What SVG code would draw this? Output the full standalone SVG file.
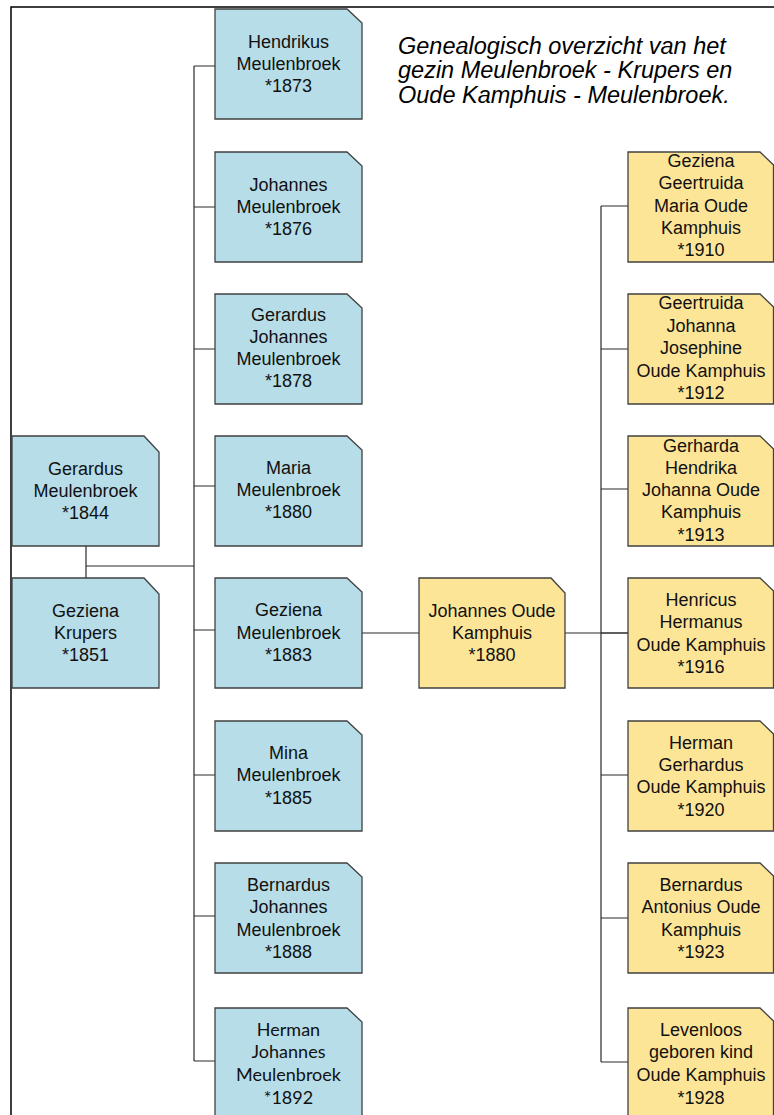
<svg xmlns="http://www.w3.org/2000/svg" width="774" height="1115" viewBox="0 0 774 1115">
<style>
.b{fill:#b7dde8;stroke:#404040;stroke-width:1.3}
.y{fill:#fde598;stroke:#404040;stroke-width:1.3}
.t{font-family:"Liberation Sans",Arial,sans-serif;font-size:18px;fill:#111;text-anchor:middle}
.c{font-family:Lato,"Liberation Sans",sans-serif;font-size:18px;fill:#111;text-anchor:middle}
.ln{fill:none;stroke:#2a2a2a;stroke-width:1.2}
.title{font-family:"Liberation Sans",Arial,sans-serif;font-size:23.5px;font-style:italic;fill:#000}
</style>
<rect width="774" height="1115" fill="#fff"/>
<path d="M11,1115 V7 H774" fill="none" stroke="#000" stroke-width="1.5"/>
<g id="title"><text class="title" x="398"><tspan x="398" y="53.5">Genealogisch overzicht van het</tspan><tspan x="398" y="78">gezin Meulenbroek - Krupers en</tspan><tspan x="398" y="102.5">Oude Kamphuis - Meulenbroek.</tspan></text></g>
<g id="connectors">
<path class="ln" d="M86,546 V578 M86,566 H194 M194,66 V1061"/>
<path class="ln" d="M194,66 H215 M194,207 H215 M194,349 H215 M194,486 H215 M194,630 H215 M194,775 H215 M194,916 H215 M194,1061 H215"/>
<path class="ln" d="M362,633 H419 M565,633 H628 M601,206 V1062"/>
<path class="ln" d="M601,206 H628 M601,349 H628 M601,489 H628 M601,633 H628 M601,775 H628 M601,918 H628 M601,1062 H628"/>
</g>
<g id="gerardus-1844"><path class="b" d="M12,436 H144 L159,452 V546 H12 Z"/><text class="t"><tspan x="85.5" y="475">Gerardus</tspan><tspan x="85.5" y="497">Meulenbroek</tspan><tspan x="85.5" y="519">*1844</tspan></text></g>
<g id="geziena-krupers"><path class="b" d="M12,578 H144 L159,594 V688 H12 Z"/><text class="t"><tspan x="85.5" y="617">Geziena</tspan><tspan x="85.5" y="639">Krupers</tspan><tspan x="85.5" y="661">*1851</tspan></text></g>
<g id="hendrikus"><path class="b" d="M215,9 H347 L362,23 V119 H215 Z"/><text class="t"><tspan x="288.5" y="48">Hendrikus</tspan><tspan x="288.5" y="70">Meulenbroek</tspan><tspan x="288.5" y="92">*1873</tspan></text></g>
<g id="johannes"><path class="b" d="M215,152 H347 L362,166 V262 H215 Z"/><text class="t"><tspan x="288.5" y="191">Johannes</tspan><tspan x="288.5" y="213">Meulenbroek</tspan><tspan x="288.5" y="235">*1876</tspan></text></g>
<g id="gerardus-1878"><path class="b" d="M215,294 H347 L362,308 V404 H215 Z"/><text class="t"><tspan x="288.5" y="321">Gerardus</tspan><tspan x="288.5" y="343">Johannes</tspan><tspan x="288.5" y="365">Meulenbroek</tspan><tspan x="288.5" y="387">*1878</tspan></text></g>
<g id="maria"><path class="b" d="M215,436 H347 L362,450 V546 H215 Z"/><text class="t"><tspan x="288.5" y="474">Maria</tspan><tspan x="288.5" y="496">Meulenbroek</tspan><tspan x="288.5" y="518">*1880</tspan></text></g>
<g id="geziena-meulenbroek"><path class="b" d="M215,578 H347 L362,592 V688 H215 Z"/><text class="t"><tspan x="288.5" y="616">Geziena</tspan><tspan x="288.5" y="639">Meulenbroek</tspan><tspan x="288.5" y="661">*1883</tspan></text></g>
<g id="mina"><path class="b" d="M215,721 H347 L362,735 V831 H215 Z"/><text class="t"><tspan x="288.5" y="759">Mina</tspan><tspan x="288.5" y="781">Meulenbroek</tspan><tspan x="288.5" y="804">*1885</tspan></text></g>
<g id="bernardus-johannes"><path class="b" d="M215,863 H347 L362,877 V973 H215 Z"/><text class="t"><tspan x="288.5" y="891">Bernardus</tspan><tspan x="288.5" y="913">Johannes</tspan><tspan x="288.5" y="936">Meulenbroek</tspan><tspan x="288.5" y="958">*1888</tspan></text></g>
<g id="herman-johannes"><path class="b" d="M215,1008 H347 L362,1022 V1125 H215 Z"/><text class="c"><tspan x="288.5" y="1036">Herman</tspan><tspan x="288.5" y="1058">Johannes</tspan><tspan x="288.5" y="1081">Meulenbroek</tspan><tspan x="288.5" y="1104">*1892</tspan></text></g>
<g id="johannes-oude-kamphuis"><path class="y" d="M419,578 H551 L565,593 V688 H419 Z"/><text class="t"><tspan x="492" y="617">Johannes Oude</tspan><tspan x="492" y="639">Kamphuis</tspan><tspan x="492" y="661">*1880</tspan></text></g>
<g id="geziena-geertruida"><path class="y" d="M628,152 H760 L773.5,165 V262 H628 Z"/><text class="t"><tspan x="701" y="167">Geziena</tspan><tspan x="701" y="189">Geertruida</tspan><tspan x="701" y="212">Maria Oude</tspan><tspan x="701" y="234">Kamphuis</tspan><tspan x="701" y="256">*1910</tspan></text></g>
<g id="geertruida"><path class="y" d="M628,294 H760 L773.5,307 V404 H628 Z"/><text class="t"><tspan x="701" y="309">Geertruida</tspan><tspan x="701" y="332">Johanna</tspan><tspan x="701" y="354">Josephine</tspan><tspan x="701" y="377">Oude Kamphuis</tspan><tspan x="701" y="399">*1912</tspan></text></g>
<g id="gerharda"><path class="y" d="M628,436 H760 L773.5,449 V546 H628 Z"/><text class="t"><tspan x="701" y="452">Gerharda</tspan><tspan x="701" y="474">Hendrika</tspan><tspan x="701" y="496">Johanna Oude</tspan><tspan x="701" y="518">Kamphuis</tspan><tspan x="701" y="541">*1913</tspan></text></g>
<g id="henricus"><path class="y" d="M628,578 H760 L773.5,591 V688 H628 Z"/><text class="t"><tspan x="701" y="606">Henricus</tspan><tspan x="701" y="628">Hermanus</tspan><tspan x="701" y="651">Oude Kamphuis</tspan><tspan x="701" y="673">*1916</tspan></text></g>
<g id="herman-gerhardus"><path class="y" d="M628,721 H760 L773.5,734 V831 H628 Z"/><text class="t"><tspan x="701" y="749">Herman</tspan><tspan x="701" y="771">Gerhardus</tspan><tspan x="701" y="793">Oude Kamphuis</tspan><tspan x="701" y="816">*1920</tspan></text></g>
<g id="bernardus-antonius"><path class="y" d="M628,863 H760 L773.5,876 V973 H628 Z"/><text class="t"><tspan x="701" y="891">Bernardus</tspan><tspan x="701" y="913">Antonius Oude</tspan><tspan x="701" y="936">Kamphuis</tspan><tspan x="701" y="958">*1923</tspan></text></g>
<g id="levenloos"><path class="y" d="M628,1008 H760 L773.5,1021 V1125 H628 Z"/><text class="t"><tspan x="701" y="1036">Levenloos</tspan><tspan x="701" y="1058">geboren kind</tspan><tspan x="701" y="1081">Oude Kamphuis</tspan><tspan x="701" y="1104">*1928</tspan></text></g>
</svg>
